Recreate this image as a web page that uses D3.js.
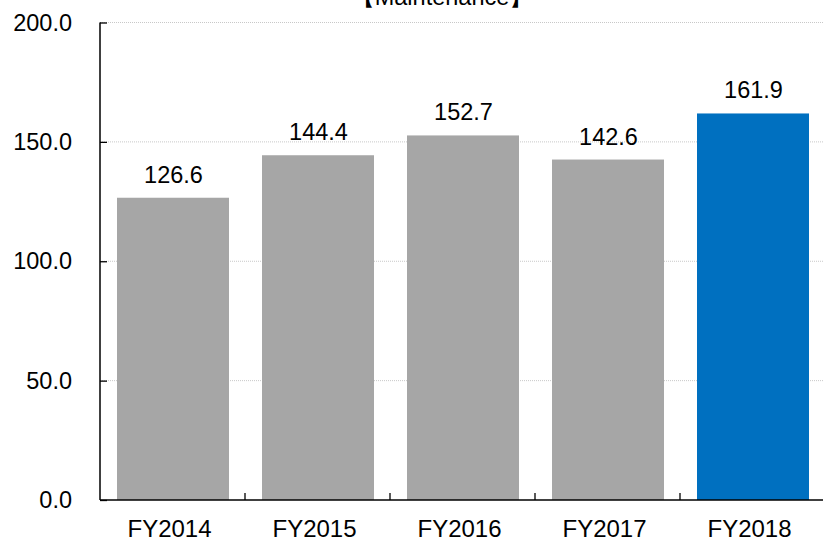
<!DOCTYPE html>
<html><head><meta charset="utf-8">
<script src="https://cdn.jsdelivr.net/npm/d3@7"></script>
<style>body{margin:0;background:#fff;}svg{display:block;font-family:"Liberation Sans",Arial,sans-serif;}</style>
</head><body>
<svg id="c" width="823" height="541"></svg>
<script>
const categories = ["FY2014","FY2015","FY2016","FY2017","FY2018"];
const values = [126.6, 144.4, 152.7, 142.6, 161.9];
const yTicks = [0, 50, 100, 150, 200];
const title = "【Maintenance】";

const svg = d3.select("#c");
const m = {left:100, top:22.5, bottom:500, right:825};
const xb = d3.scaleBand().domain(categories).range([m.left, m.right]);
const y = d3.scaleLinear().domain([0,200]).range([m.bottom, m.top]);

// gridlines
svg.append("g").selectAll("line").data(yTicks.filter(d=>d>0)).join("line")
  .attr("x1", m.left).attr("x2", 823).attr("y1", d=>y(d)).attr("y2", d=>y(d))
  .attr("stroke","#c8c8c8").attr("stroke-width",1).attr("stroke-dasharray","1,1");

// bars
svg.append("g").selectAll("rect").data(values).join("rect")
  .attr("x",(d,i)=>xb(categories[i])+17).attr("width",112)
  .attr("y",d=>y(d)).attr("height",d=>y(0)-y(d))
  .attr("fill",(d,i)=>i===values.length-1?"#0070C0":"#A6A6A6");

// value labels
svg.append("g").selectAll("text").data(values).join("text")
  .attr("x",(d,i)=>xb(categories[i])+xb.bandwidth()/2+1).attr("y",d=>y(d)-15)
  .attr("text-anchor","middle").attr("font-size",23.5).attr("fill","#000")
  .text(d=>d.toFixed(1));

// y axis
const ya = d3.axisLeft(y).tickValues(yTicks).tickSize(-7).tickPadding(28).tickFormat(d=>d.toFixed(1));
const gy = svg.append("g").attr("transform",`translate(${m.left},0)`).call(ya);
gy.select(".domain").remove();
gy.selectAll(".tick line").attr("stroke","#000").attr("stroke-width",1.3);
gy.selectAll(".tick text").attr("font-size",23.5).attr("font-family","Liberation Sans, Arial, sans-serif").attr("fill","#000");
svg.append("line").attr("x1",m.left).attr("x2",m.left).attr("y1",m.top).attr("y2",m.bottom).attr("stroke","#000").attr("stroke-width",1.5);

// x axis
svg.append("line").attr("x1",m.left).attr("x2",823).attr("y1",m.bottom).attr("y2",m.bottom).attr("stroke","#000").attr("stroke-width",1.5);
svg.append("g").selectAll("line").data(categories.slice(1)).join("line")
  .attr("x1",d=>xb(d)).attr("x2",d=>xb(d)).attr("y1",m.bottom).attr("y2",m.bottom-7)
  .attr("stroke","#000").attr("stroke-width",1.3);
svg.append("g").selectAll("text").data(categories).join("text")
  .attr("x",d=>xb(d)+xb.bandwidth()/2-3).attr("y",537)
  .attr("text-anchor","middle").attr("font-size",24).attr("fill","#000").text(d=>d);

// title
svg.append("text").attr("x",442).attr("y",5).attr("text-anchor","middle").attr("font-size",23.5).attr("fill","#000").text(title);
</script>
</body></html>
